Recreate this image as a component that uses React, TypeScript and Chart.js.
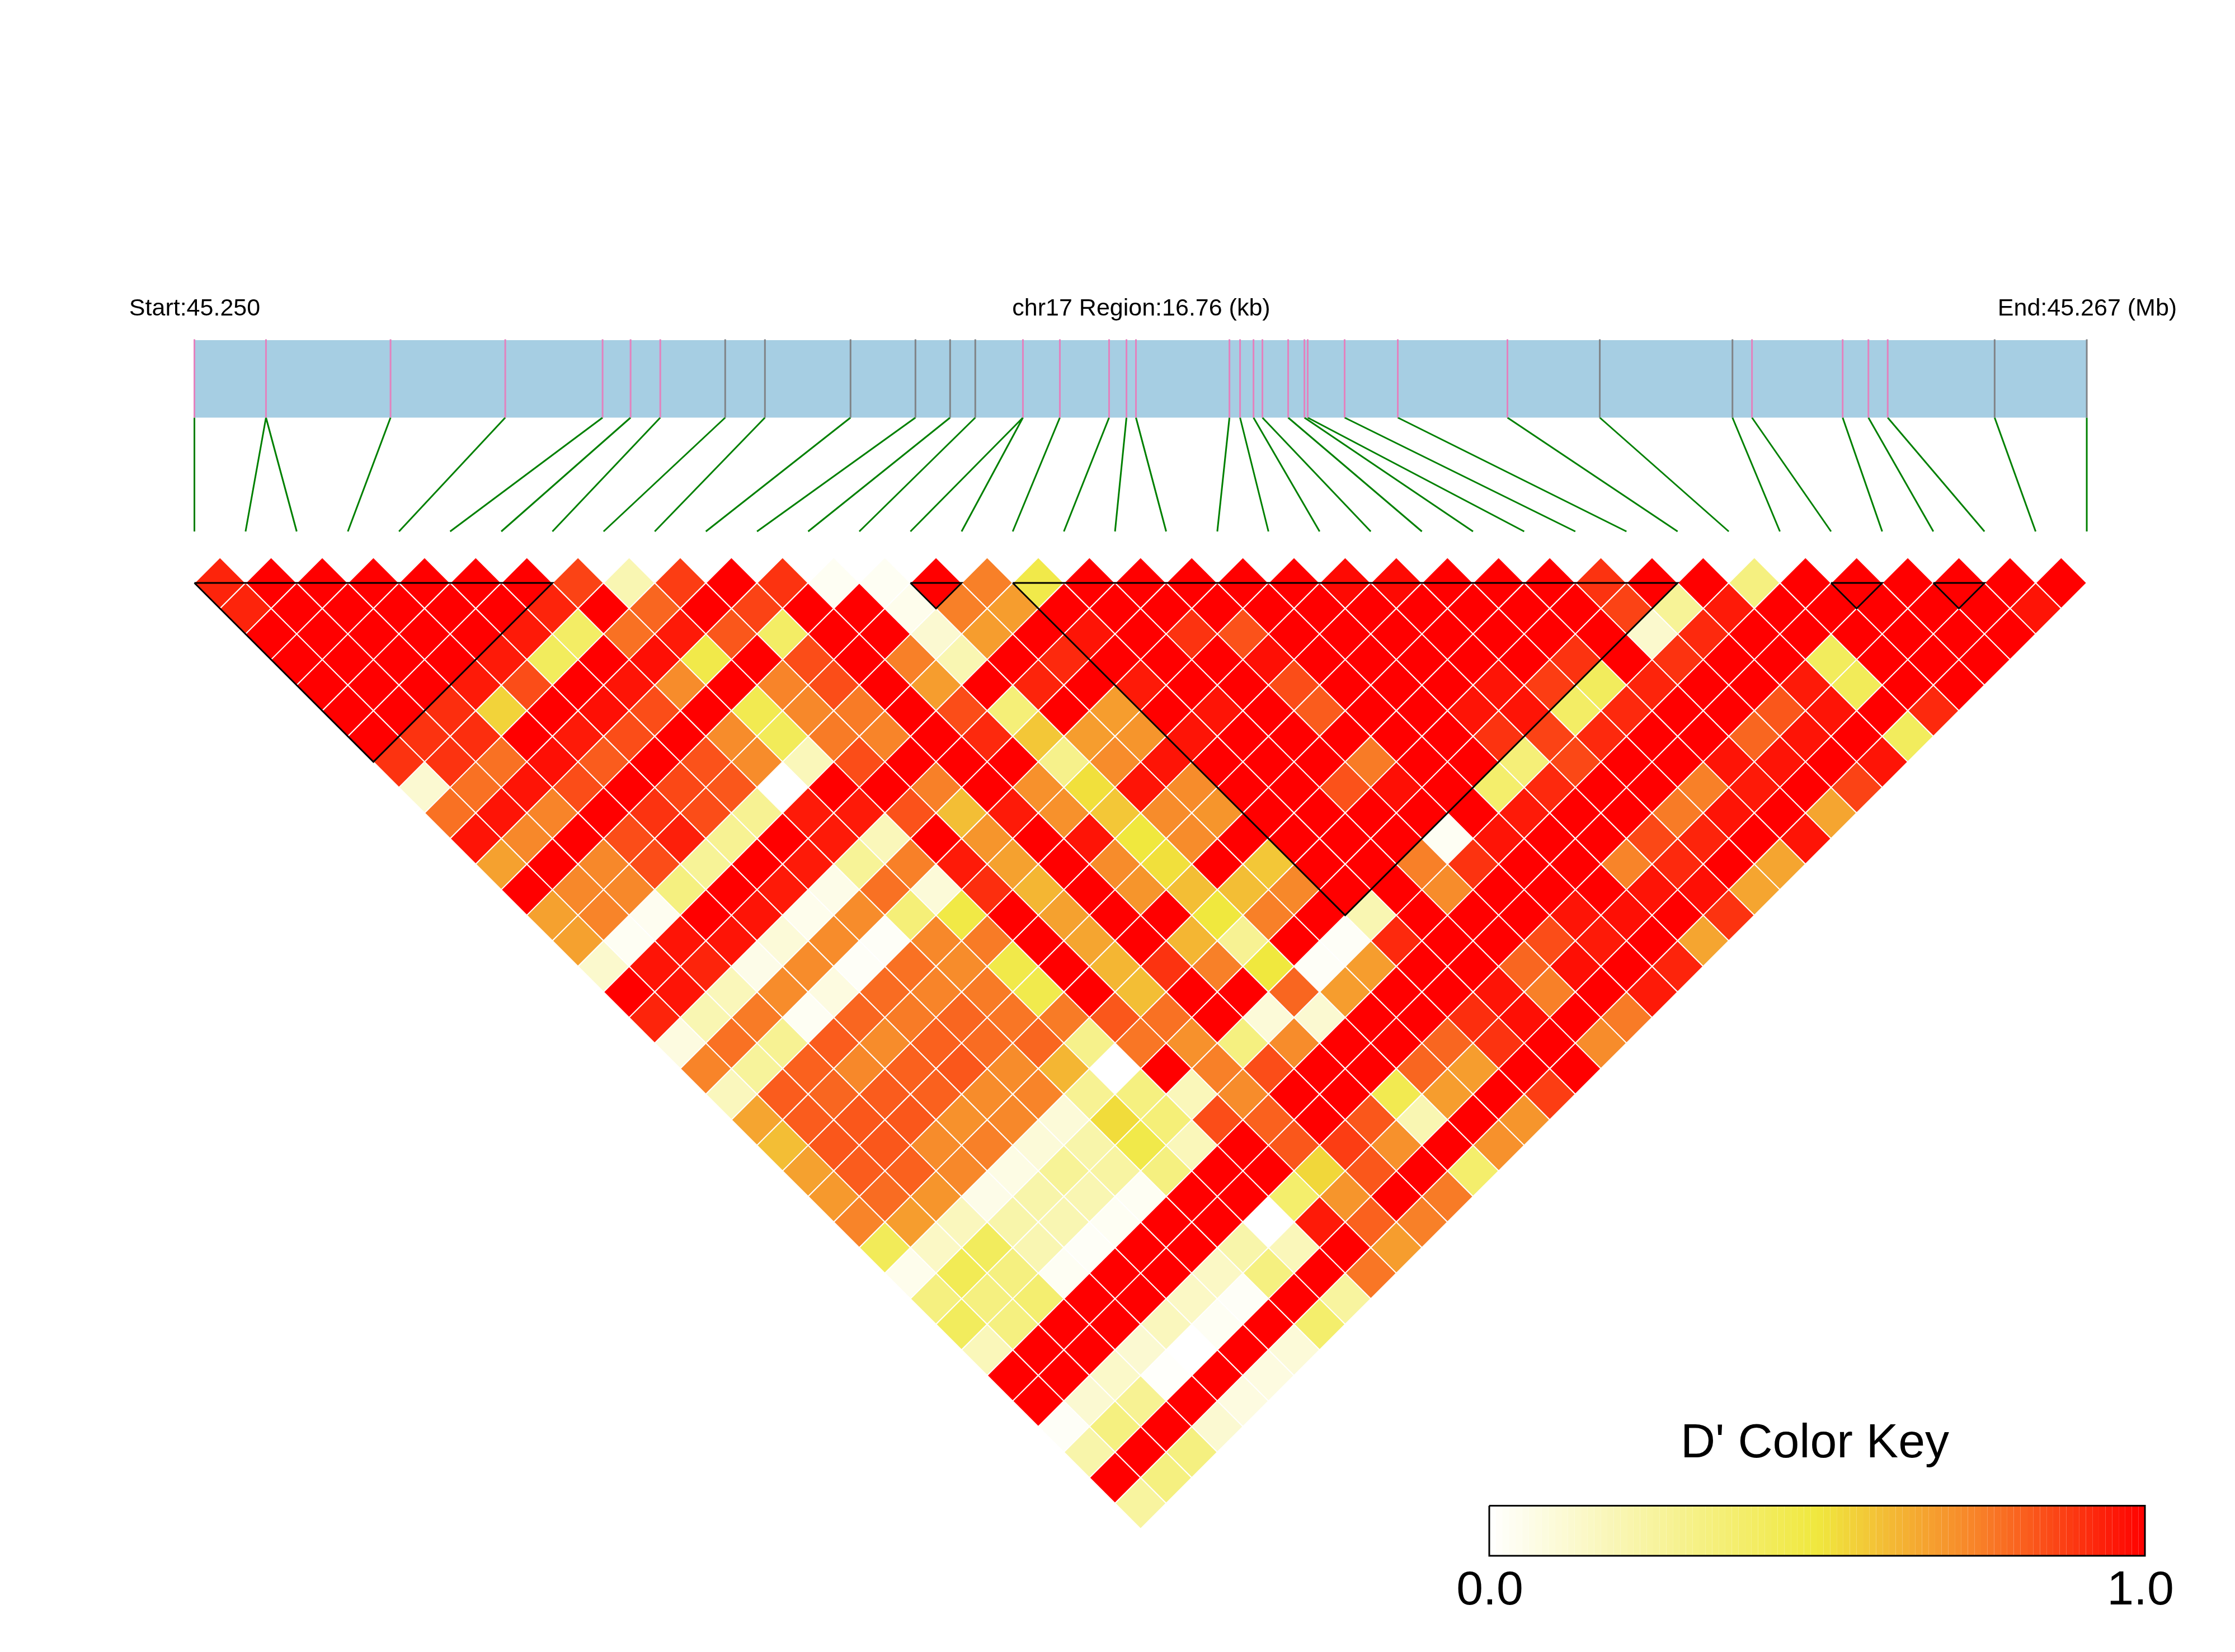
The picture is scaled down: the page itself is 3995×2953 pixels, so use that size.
import React, { useEffect, useRef } from "react";
import { Chart, registerables } from "chart.js";

Chart.register(...registerables);

// D' values, one array per horizontal row of the triangle (row0 = neighbouring SNPs).
const row0 = [.93,1,1,1,1,1,1,.87,.2,.88,1,.9,.03,.03,1,.75,.47,1,1,1,1,1,.98,.98,1,1,1,.9,1,1,.33,1,1,1,1,1,1];
const row1 = [.93,1,1,1,1,1,.93,1,.8,1,.87,1,1,.05,.75,.68,1,1,1,1,1,1,1,1,1,1,1,.87,.27,.95,1,1,1,1,1,.96];
const row2 = [1,1,1,1,1,.95,.4,.78,.95,.83,.4,1,1,.12,.68,1,.96,1,.9,.84,1,1,1,1,1,1,1,.13,.92,1,1,1,1,1,1];
const row3 = [1,1,1,1,.95,.42,1,.97,.47,1,.85,1,.75,.2,1,.92,1,1,1,.97,1,1,1,1,1,.9,1,.9,1,1,.42,1,1,1];
const row4 = [1,1,1,.95,.85,1,.96,.72,1,.74,.85,1,.68,1,.93,1,.95,1,1,.85,1,1,1,.96,.88,.42,.93,1,1,.95,.43,1,1];
const row5 = [1,1,.91,.55,1,.97,.85,1,.45,.73,.76,1,.85,.35,1,.68,1,.96,1,.82,1,1,.96,.96,.4,.92,1,1,.83,.96,1,.92];
const row6 = [1,.9,.91,1,.95,.85,1,.72,.43,.76,.74,1,.92,.58,.68,.7,.96,1,1,1,1,1,.9,.87,.92,1,1,.8,.96,1,.42];
const row7 = [.9,.9,.78,.97,.82,1,.84,.72,.18,.85,1,1,1,.3,.72,.96,1,1,1,.76,1,1,.35,.86,1,1,.96,.96,1,.96];
const row8 = [.12,.78,.96,.85,1,.86,.83,0,1,1,.75,1,.71,.52,.96,.72,1,1,.84,.97,1,.38,.92,1,1,.75,.95,1,.87];
const row9 = [.78,.96,.74,1,.9,.85,.28,.95,.95,.84,.6,.95,.71,.58,.72,.7,1,1,1,1,1,.95,1,1,.76,.96,1,.66];
const row10 = [.96,.73,1,.85,.94,.28,1,.95,.18,1,.7,1,.96,.5,.72,1,1,1,1,.03,.96,1,1,.86,.93,1,.96];
const row11 = [.67,1,.73,.85,.27,1,.95,.27,.75,.95,.67,1,.72,.52,1,.58,1,1,.75,.9,1,1,.74,.92,1,.66];
const row12 = [1,.73,.73,.33,1,.95,.06,.78,.1,.91,.62,1,.7,.6,.6,.73,1,1,.72,1,1,1,.96,.97,.66];
const row13 = [.67,.74,.04,1,.96,.05,.72,.35,.48,1,.67,1,1,.5,.75,1,.2,1,1,1,.96,.97,1,.9];
const row14 = [.67,.03,.96,.96,.1,.72,.02,.73,.76,1,.66,1,.62,.28,1,.02,.92,1,1,.85,.95,1,.66];
const row15 = [.13,.96,.93,.06,.72,.02,.78,.72,.47,1,.62,.9,.75,.5,.02,.68,1,1,.8,.97,1,.93];
const row16 = [1,.96,.18,.72,.08,.79,.74,.76,.46,1,.6,1,1,.8,.68,1,1,.96,.75,1,.95];
const row17 = [.93,.2,.76,.03,.8,.76,.8,.77,.76,.83,.78,1,.1,.12,1,1,.91,.97,1,.76];
const row18 = [.08,.78,.28,.82,.72,.81,.79,.8,.3,.77,.71,.33,.72,1,1,.8,.9,1,.72];
const row19 = [.74,.26,.81,.73,.81,.83,.72,.62,0,1,.75,.85,1,1,.8,.68,1,1];
const row20 = [.17,.82,.8,.82,.81,.72,.74,.28,.33,.18,.72,1,1,.45,.68,1,.88];
const row21 = [.66,.82,.83,.83,.71,.73,.1,.53,.35,.85,.81,1,.83,.2,1,.7];
const row22 = [.6,.83,.83,.72,.75,.1,.22,.47,.18,1,.83,.88,.71,1,.71];
const row23 = [.67,.82,.81,.73,.07,.27,.24,.33,1,1,.54,.83,1,.38];
const row24 = [.69,.79,.7,.06,.22,.2,.03,1,1,.38,.7,1,.76];
const row25 = [.74,.68,.17,.22,.2,.03,1,1,0,.95,.81,.75];
const row26 = [.43,.15,.42,.2,.02,1,1,.22,.18,1,.68];
const row27 = [.05,.44,.33,.03,1,1,.15,.33,1,.77];
const row28 = [.33,.33,.37,1,1,.15,.02,1,.25];
const row29 = [.42,.33,1,1,.17,.03,1,.38];
const row30 = [.18,1,1,.12,0,1,.1];
const row31 = [1,1,.14,.01,1,.08];
const row32 = [1,.12,.28,1,.08];
const row33 = [.02,.33,1,.12];
const row34 = [.22,1,.33];
const row35 = [1,.33];
const row36 = [.25];
const ldRows = [row0,row1,row2,row3,row4,row5,row6,row7,row8,row9,row10,row11,row12,row13,row14,row15,row16,row17,row18,row19,row20,row21,row22,row23,row24,row25,row26,row27,row28,row29,row30,row31,row32,row33,row34,row35,row36];

// SNP positions along the region (kb from start).
const regionKb = 16.76;
const snpKb = [0,.634,.634,1.737,2.753,3.615,3.863,4.126,4.701,5.053,5.811,6.386,6.693,6.916,7.338,7.338,7.665,8.101,8.255,8.339,9.167,9.261,9.38,9.459,9.687,9.831,9.86,10.187,10.658,11.629,12.447,13.622,13.795,14.598,14.826,14.997,15.944,16.76];
// SNPs whose mark in the gene bar is grey (the others are pink).
const greySnps = [8,9,10,11,12,13,30,31,36,37];
// Haplotype blocks: first and last SNP of each.
const blocks: [number, number][] = [[0,7],[14,15],[16,29],[32,33],[34,35]];

const startLabel = "Start:45.250";
const midLabel = "chr17 Region:16.76 (kb)";
const endLabel = "End:45.267 (Mb)";
const keyTitle = "D' Color Key";
const keyLow = "0.0";
const keyHigh = "1.0";

// Layout: one x unit is one SNP slot, one y unit is one row of the triangle.
const W = 3995, H = 2953;
const PX_X0 = 347.5, PX_DX = 91.42, PX_Y0 = 1042, PX_DY = 45.7;
const xv = (px: number) => (px - PX_X0) / PX_DX;
const yv = (py: number) => (py - PX_Y0) / PX_DY;
const nSlots = snpKb.length - 1;
const kbToX = (kb: number) => (kb * nSlots) / regionKb;

const barTop = yv(608), barBottom = yv(746.5), tickTop = yv(606.5), linkBottom = yv(950);
const keyL = xv(2662), keyR = xv(3834), keyT = yv(2691.5), keyB = yv(2781);

const stops: [number, number[]][] = [
  [0, [255, 255, 255]],
  [0.5, [240, 232, 62]],
  [0.75, [248, 128, 40]],
  [1, [255, 0, 0]],
];
function colorOf(v: number) {
  for (let s = 1; s < stops.length; s++) {
    if (v <= stops[s][0]) {
      const [a, ca] = stops[s - 1];
      const [b, cb] = stops[s];
      const t = (v - a) / (b - a);
      const c = ca.map((q, k) => Math.round(q + (cb[k] - q) * t));
      return `rgb(${c[0]},${c[1]},${c[2]})`;
    }
  }
  return "rgb(255,0,0)";
}

const cellPoints = ldRows.flatMap((vals, d) =>
  vals.map((v, i) => ({ x: i + (d + 1) / 2, y: d, v }))
);

const tickPoints = (grey: boolean) =>
  snpKb.flatMap((kb, i) =>
    greySnps.includes(i) === grey
      ? [{ x: kbToX(kb), y: tickTop }, { x: kbToX(kb), y: barBottom }, { x: kbToX(kb), y: null }]
      : []
  );

const linkPoints = snpKb.flatMap((kb, i) => [
  { x: kbToX(kb), y: barBottom },
  { x: i, y: linkBottom },
  { x: i, y: null },
]);

const blockPoints = blocks.flatMap(([a, b]) => [
  { x: a, y: 0 },
  { x: b, y: 0 },
  { x: (a + b) / 2, y: b - a },
  { x: a, y: 0 },
  { x: a, y: null },
]);

const KEY_STEPS = 100;
const keyPoints = Array.from({ length: KEY_STEPS + 1 }, (_, k) => ({
  x: keyL + ((keyR - keyL) * k) / KEY_STEPS,
  y: (keyT + keyB) / 2,
  v: (k + 0.5) / KEY_STEPS,
}));

const lineBase = { type: "line" as const, pointRadius: 0, fill: false, tension: 0, spanGaps: false };

const textPlugin = {
  id: "chartText",
  afterDatasetsDraw(chart: any) {
    const { ctx, scales } = chart;
    const put = (t: string, x: number, y: number, size: number) => {
      ctx.font = `${size}px "Liberation Sans", Arial, sans-serif`;
      ctx.fillText(t, scales.x.getPixelForValue(x), scales.y.getPixelForValue(y));
    };
    ctx.save();
    ctx.fillStyle = "#000";
    ctx.textAlign = "center";
    ctx.textBaseline = "alphabetic";
    put(startLabel, xv(348), yv(564), 43);
    put(midLabel, xv(2040), yv(564), 43);
    put(endLabel, xv(3731), yv(564), 43);
    put(keyTitle, xv(3244), yv(2605), 86);
    put(keyLow, xv(2663), yv(2868), 86);
    put(keyHigh, xv(3826), yv(2868), 86);
    ctx.restore();
  },
};

export default function App() {
  const ref = useRef<HTMLCanvasElement>(null);
  useEffect(() => {
    const chart = new Chart(ref.current as HTMLCanvasElement, {
      type: "scatter",
      data: {
        datasets: [
          {
            ...lineBase,
            label: "Blocks",
            data: blockPoints,
            borderColor: "#000",
            borderWidth: 3,
          },
          {
            ...lineBase,
            label: "Key frame",
            data: [
              { x: keyL, y: keyT },
              { x: keyR, y: keyT },
              { x: keyR, y: keyB },
              { x: keyL, y: keyB },
              { x: keyL, y: keyT },
            ],
            borderColor: "#000",
            borderWidth: 3,
          },
          {
            ...lineBase,
            label: "Key",
            data: keyPoints,
            borderWidth: 88,
            borderCapStyle: "butt",
            borderColor: "#fff",
            segment: { borderColor: (c: any) => colorOf(c.p0.raw.v) },
          },
          {
            ...lineBase,
            label: "Pink SNPs",
            data: tickPoints(false),
            borderColor: "#E382BE",
            borderWidth: 3,
          },
          {
            ...lineBase,
            label: "Grey SNPs",
            data: tickPoints(true),
            borderColor: "#808488",
            borderWidth: 3,
          },
          {
            ...lineBase,
            label: "Links",
            data: linkPoints,
            borderColor: "#008000",
            borderWidth: 3,
          },
          {
            ...lineBase,
            label: "Region",
            data: [
              { x: 0, y: barTop },
              { x: nSlots, y: barTop },
            ],
            borderWidth: 0,
            backgroundColor: "#A6CEE3",
            fill: { value: barBottom },
          },
          {
            type: "scatter",
            label: "D'",
            data: cellPoints,
            pointStyle: "rectRot",
            pointRadius: PX_DY,
            pointHoverRadius: PX_DY,
            pointBorderWidth: 2,
            pointBorderColor: "#fff",
            pointBackgroundColor: (c: any) => colorOf(c.raw ? c.raw.v : 0),
          },
        ] as any,
      },
      options: {
        responsive: false,
        animation: false,
        events: [],
        layout: { padding: 0, autoPadding: false },
        plugins: { legend: { display: false }, tooltip: { enabled: false } },
        scales: {
          x: { type: "linear", display: false, min: xv(0), max: xv(W) },
          y: { type: "linear", display: false, reverse: true, min: yv(0), max: yv(H) },
        },
      },
      plugins: [textPlugin],
    } as any);
    return () => chart.destroy();
  }, []);
  return (
    <canvas
      ref={ref}
      width={W}
      height={H}
      style={{ position: "absolute", left: 0, top: 0, display: "block", background: "#fff" }}
    />
  );
}
